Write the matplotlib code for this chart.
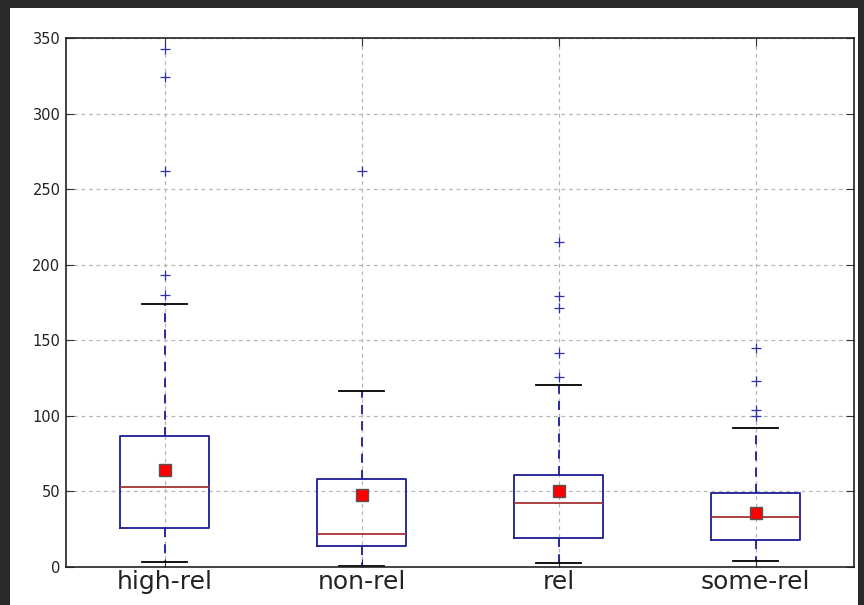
import matplotlib
matplotlib.use('Agg')
import matplotlib.pyplot as plt
from matplotlib.patches import Rectangle

# data
labels = ['high-rel', 'non-rel', 'rel', 'some-rel']
q1 = [25.8, 13.9, 19.0, 17.9]
med = [53.0, 21.8, 42.5, 33.3]
q3 = [86.5, 58.2, 60.7, 48.8]
mean = [64.5, 47.6, 50.3, 36.0]
whislo = [3.3, 0.7, 2.4, 3.8]
whishi = [174.0, 116.5, 120.6, 92.0]
fliers = [
    [180, 193, 262, 324, 342.5],
    [262],
    [126, 141.5, 171.3, 179.3, 215],
    [100, 104, 123, 145],
]

W, H = 864, 605
fig = plt.figure(figsize=(W / 100, H / 100), dpi=100)
fig.patch.set_facecolor('#2a2a2a')
# white canvas inside the dark screenshot border
bg = Rectangle((10 / W, 0), 848 / W, 597 / H, transform=fig.transFigure,
               facecolor='white', edgecolor='none', zorder=-10)
fig.add_artist(bg)

ax = fig.add_axes([66 / W, (H - 567) / H, (854 - 66) / W, (567 - 38) / H])
ax.set_zorder(5)

stats = []
for i in range(len(labels)):
    stats.append(dict(label=labels[i], q1=q1[i], med=med[i], q3=q3[i], mean=mean[i],
                      whislo=whislo[i], whishi=whishi[i], fliers=fliers[i]))

blue = '#1c1c94'
ax.bxp(stats, widths=0.45, showmeans=True,
       boxprops=dict(color=blue, linewidth=1.3),
       whiskerprops=dict(color=blue, linestyle=(0, (5, 4)), linewidth=1.3),
       capprops=dict(color='black', linewidth=1.3),
       medianprops=dict(color='#a83232', linewidth=1.3),
       flierprops=dict(marker='+', markeredgecolor='#3030a8', markersize=7, markeredgewidth=0.9, linestyle='none'),
       meanprops=dict(marker='s', markerfacecolor='red', markeredgecolor='#555555', markersize=8))

ax.set_xlim(0.5, 4.5)
ax.set_ylim(0, 350)
ax.set_yticks(range(0, 351, 50))
ax.grid(True, color='#b5b5b5', linestyle=(0, (3, 3)), linewidth=0.9)
ax.set_axisbelow(True)
ax.tick_params(direction='in', top=True, right=True, length=6, color='#333333', labelcolor='#222222')
ax.tick_params(axis='y', labelsize=10.5, pad=4)
ax.tick_params(axis='x', labelsize=18, pad=2)
for s in ax.spines.values():
    s.set_linewidth(1.2)
    s.set_color('#222222')

fig.savefig('out.png', dpi=100, facecolor=fig.get_facecolor())
